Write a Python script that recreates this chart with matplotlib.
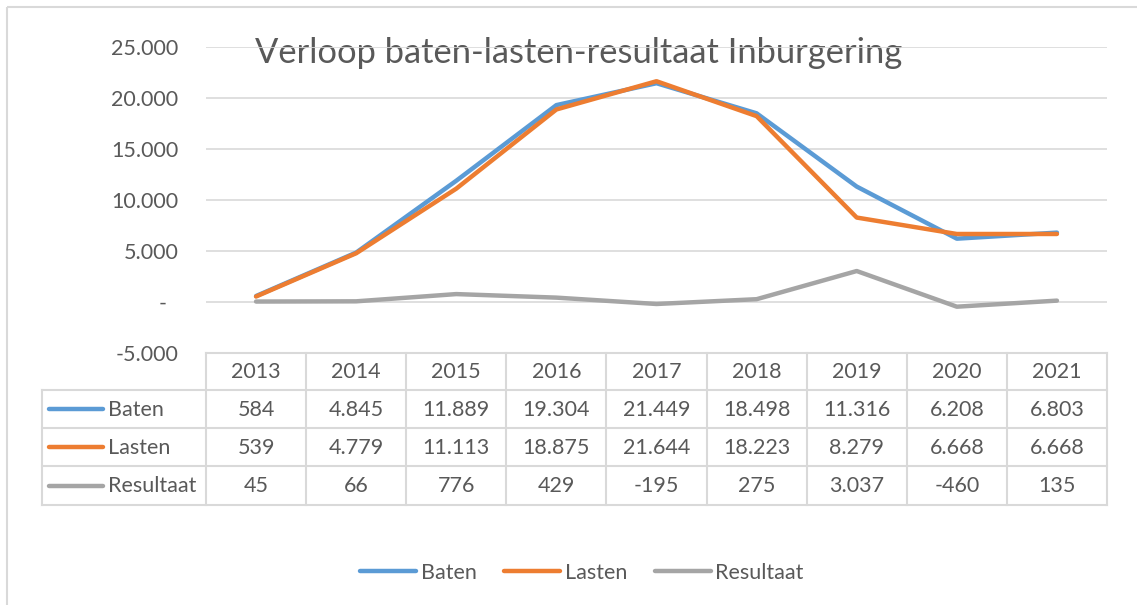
import matplotlib.pyplot as plt
from matplotlib.lines import Line2D
from matplotlib.patches import Rectangle

# gegevens
jaren = ["2013", "2014", "2015", "2016", "2017", "2018", "2019", "2020", "2021"]
baten = [584, 4845, 11889, 19304, 21449, 18498, 11316, 6208, 6803]
lasten = [539, 4779, 11113, 18875, 21644, 18223, 8279, 6668, 6668]
resultaat = [45, 66, 776, 429, -195, 275, 3037, -460, 135]
reeksen = ["Baten", "Lasten", "Resultaat"]
kleuren = ["#5B9BD5", "#ED7D31", "#A5A5A5"]

y_ticks = [-5000, 0, 5000, 10000, 15000, 20000, 25000]


def fmt(v):
    # Nederlandse duizendtallen
    s = f"{abs(v):,}".replace(",", ".")
    return ("-" if v < 0 else "") + s


plt.rcParams["font.family"] = ["Lato", "DejaVu Sans"]
tekst = "#595959"
raster = "#D9D9D9"
fs = 15.5

W, H = 1137, 605
fig = plt.figure(figsize=(W / 100, H / 100), dpi=100)

x0, x1 = 206, 1107
y_top, y_bot = 47, 353
ax = fig.add_axes([x0 / W, 1 - y_bot / H, (x1 - x0) / W, (y_bot - y_top) / H])

xs = list(range(len(jaren)))
for data, kleur, naam in zip([baten, lasten, resultaat], kleuren, reeksen):
    ax.plot(xs, data, color=kleur, lw=3.2, label=naam,
            solid_capstyle="round", solid_joinstyle="round", zorder=3)

ax.set_xlim(-0.5, len(jaren) - 0.5)
ax.set_ylim(-5000, 25000)
ax.set_yticks(y_ticks)
ax.set_yticklabels([fmt(v) if v != 0 else "-  " for v in y_ticks])
ax.tick_params(axis="y", length=0, pad=20, labelsize=fs, labelcolor=tekst)
ax.set_xticks([])
for v in y_ticks[1:]:
    ax.axhline(v, color=raster, lw=1.2, zorder=1)
for s in ax.spines.values():
    s.set_visible(False)
ax.patch.set_alpha(0)

# overlay in pixels voor tabel, rand en titel
ov = fig.add_axes([0, 0, 1, 1], zorder=-1)
ov.set_xlim(0, W)
ov.set_ylim(H, 0)
ov.axis("off")

ov.add_patch(Rectangle((7, 7), W + 10, H + 10, fill=False, ec=raster, lw=1.5))

ov.text(579, 53, "Verloop baten-lasten-resultaat Inburgering", ha="center",
        va="center", fontsize=24.8, color=tekst)

# tabel
rijen = [353, 390, 428, 466, 505]
kol_w = (x1 - x0) / len(jaren)
kol = [x0 + i * kol_w for i in range(len(jaren) + 1)]
lx = 42
tabel_lw = 1.5

ov.plot([x0, x1], [rijen[0], rijen[0]], color=raster, lw=tabel_lw)
for r in rijen[1:]:
    ov.plot([lx, x1], [r, r], color=raster, lw=tabel_lw)
for c in kol:
    ov.plot([c, c], [rijen[0], rijen[-1]], color=raster, lw=tabel_lw)
ov.plot([lx, lx], [rijen[1], rijen[-1]], color=raster, lw=tabel_lw)

for i, j in enumerate(jaren):
    ov.text(kol[i] + kol_w / 2, (rijen[0] + rijen[1]) / 2 + 1, j, ha="center",
            va="center", fontsize=fs, color=tekst)

for k, (data, kleur, naam) in enumerate(zip([baten, lasten, resultaat], kleuren, reeksen)):
    yc = (rijen[k + 1] + rijen[k + 2]) / 2 + 1
    ov.plot([49, 103], [yc - 1, yc - 1], color=kleur, lw=3.2, solid_capstyle="round")
    ov.text(108, yc, naam, ha="left", va="center", fontsize=fs, color=tekst)
    for i, v in enumerate(data):
        ov.text(kol[i] + kol_w / 2, yc, fmt(v), ha="center", va="center",
                fontsize=fs, color=tekst)

# legenda onderaan
handles = [Line2D([], [], color=c, lw=3.2, solid_capstyle="round") for c in kleuren]
fig.legend(handles, reeksen, loc="center", bbox_to_anchor=(582 / W, 1 - 573 / H),
           ncol=3, frameon=False, fontsize=fs, labelcolor=tekst,
           handlelength=2.6, handletextpad=0.2, columnspacing=1.3)

plt.savefig("out.png", dpi=100)
